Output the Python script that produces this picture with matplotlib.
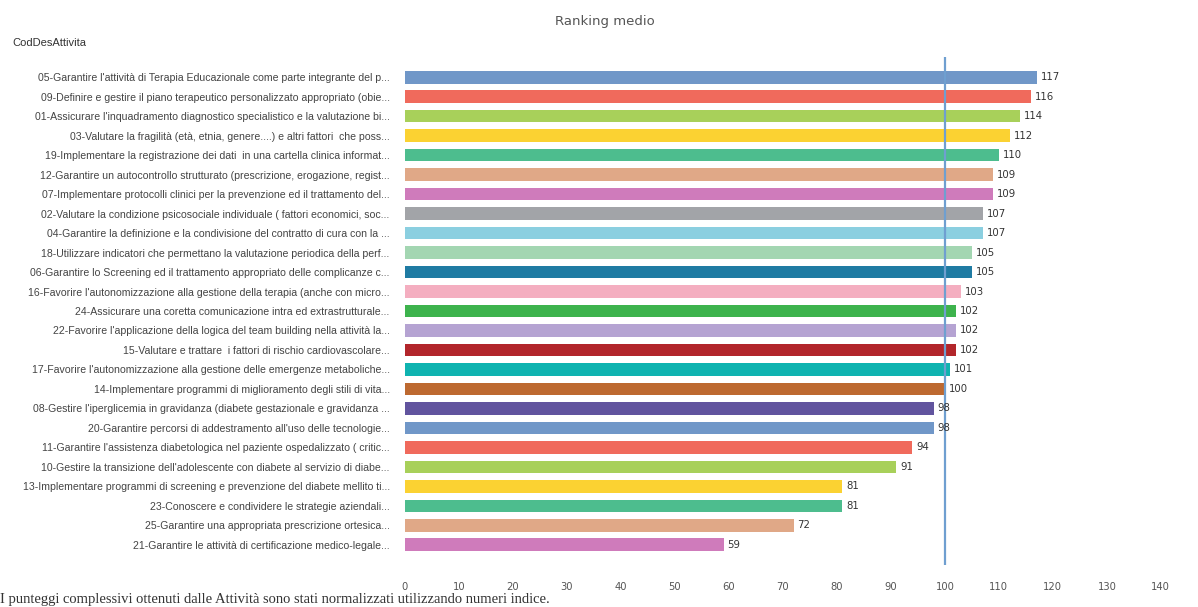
import matplotlib
matplotlib.use("Agg")
import matplotlib.pyplot as plt

# data
attivita = [
    "05-Garantire l'attività di Terapia Educazionale come parte integrante del p...",
    "09-Definire e gestire il piano terapeutico personalizzato appropriato (obie...",
    "01-Assicurare l'inquadramento diagnostico specialistico e la valutazione bi...",
    "03-Valutare la fragilità (età, etnia, genere....) e altri fattori  che poss...",
    "19-Implementare la registrazione dei dati  in una cartella clinica informat...",
    "12-Garantire un autocontrollo strutturato (prescrizione, erogazione, regist...",
    "07-Implementare protocolli clinici per la prevenzione ed il trattamento del...",
    "02-Valutare la condizione psicosociale individuale ( fattori economici, soc...",
    "04-Garantire la definizione e la condivisione del contratto di cura con la ...",
    "18-Utilizzare indicatori che permettano la valutazione periodica della perf...",
    "06-Garantire lo Screening ed il trattamento appropriato delle complicanze c...",
    "16-Favorire l'autonomizzazione alla gestione della terapia (anche con micro...",
    "24-Assicurare una coretta comunicazione intra ed extrastrutturale...",
    "22-Favorire l'applicazione della logica del team building nella attività la...",
    "15-Valutare e trattare  i fattori di rischio cardiovascolare...",
    "17-Favorire l'autonomizzazione alla gestione delle emergenze metaboliche...",
    "14-Implementare programmi di miglioramento degli stili di vita...",
    "08-Gestire l'iperglicemia in gravidanza (diabete gestazionale e gravidanza ...",
    "20-Garantire percorsi di addestramento all'uso delle tecnologie...",
    "11-Garantire l'assistenza diabetologica nel paziente ospedalizzato ( critic...",
    "10-Gestire la transizione dell'adolescente con diabete al servizio di diabe...",
    "13-Implementare programmi di screening e prevenzione del diabete mellito ti...",
    "23-Conoscere e condividere le strategie aziendali...",
    "25-Garantire una appropriata prescrizione ortesica...",
    "21-Garantire le attività di certificazione medico-legale...",
]
ranking = [117, 116, 114, 112, 110, 109, 109, 107, 107, 105, 105, 103, 102,
           102, 102, 101, 100, 98, 98, 94, 91, 81, 81, 72, 59]
riferimento = 100

palette = ["#7097c8", "#f06a5c", "#a8d05a", "#fbd232", "#4dbd8e", "#e0a887",
           "#cf7bbb", "#a2a4a8", "#8bcfe0", "#a3d6b2", "#1f7ba3", "#f4aec0",
           "#3db34d", "#b5a3d2", "#b2262b", "#0fb3b0", "#bd6930", "#61549e"]
colors = [palette[i % len(palette)] for i in range(len(ranking))]

fig = plt.figure(figsize=(11.98, 6.07), dpi=100)
ax = fig.add_axes([405 / 1198, 1 - 565 / 607, 772 / 1198, 508 / 607])

y = list(range(len(ranking)))
ax.barh(y, ranking, height=0.66, color=colors)
for yi, v in zip(y, ranking):
    ax.text(v + 0.7, yi, str(v), va="center", ha="left", fontsize=7.3,
            color="#333333", family="DejaVu Sans")

ax.axvline(riferimento, color="#6f9fd0", lw=1.6)

ax.set_xlim(0, 143)
ax.set_ylim(len(ranking) - 1 + 1.03, -1.03)
ax.set_xticks(range(0, 141, 10))
ax.set_yticks(y)
ax.set_yticklabels(attivita)
ax.tick_params(axis="y", length=0, pad=11, labelsize=7.6, labelcolor="#444444")
ax.tick_params(axis="x", length=0, pad=12, labelsize=7.2, labelcolor="#555555")
for lab in ax.get_yticklabels():
    lab.set_family("Liberation Sans")
for lab in ax.get_xticklabels():
    lab.set_family("DejaVu Sans")
for s in ax.spines.values():
    s.set_visible(False)

fig.text(605 / 1198, 1 - 22 / 607, "Ranking medio", ha="center", va="center",
         fontsize=9.5, color="#555555", family="DejaVu Sans")
fig.text(12 / 1198, 1 - 43 / 607, "CodDesAttivita", ha="left", va="center",
         fontsize=8, color="#333333", family="Liberation Sans")
fig.text(0, 1 - 600 / 607, "I punteggi complessivi ottenuti dalle Attività sono stati "
         "normalizzati utilizzando numeri indice.", ha="left", va="center",
         fontsize=10.5, color="#333333", family="Liberation Serif")

fig.savefig("out.png", dpi=100)
